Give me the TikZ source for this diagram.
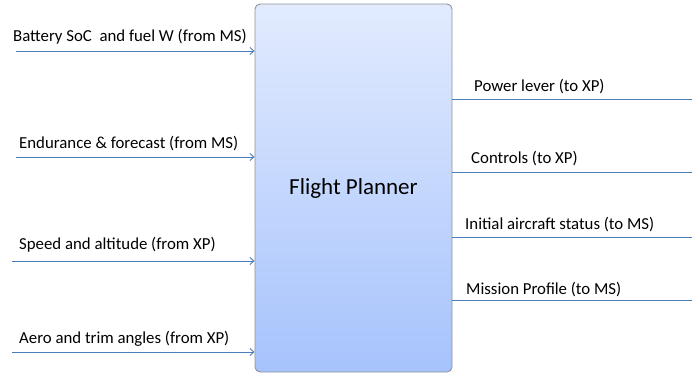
\documentclass[tikz,border=0pt]{standalone}
\usepackage{fontspec}
\setmainfont{Carlito}
\usetikzlibrary{arrows.meta,calc}
\definecolor{linkblue}{HTML}{4A7EBB}
\definecolor{boxtop}{HTML}{E2EBFE}
\definecolor{boxbot}{HTML}{A6C3FC}
\definecolor{boxedge}{HTML}{8E939A}
\begin{document}
\begin{tikzpicture}[x=1pt,y=-1pt,
  planner/.style={draw=boxedge,line width=0.9pt,rounded corners=5pt,
    top color=boxtop,bottom color=boxbot,minimum width=197pt,minimum height=368pt,
    inner sep=0pt,font=\fontsize{23}{27}\selectfont},
  inlink/.style={draw=linkblue,line width=1pt,-{Straight Barb[length=4pt,width=7pt,line width=0.9pt]}},
  outlink/.style={draw=linkblue,line width=1pt},
  lbl/.style={anchor=base west,inner sep=0pt,font=\fontsize{16.8}{19}\selectfont}]
\useasboundingbox (0,0) rectangle (692,375);
% central block
\node[planner] (fp) at (353.5,188) {Flight Planner};
% incoming signals
\coordinate (i1) at (16,51);
\coordinate (i2) at (16,157);
\coordinate (i3) at (12,261);
\coordinate (i4) at (12,352);
\draw[inlink] (i1) -- (i1 -| fp.west);
\draw[inlink] (i2) -- (i2 -| fp.west);
\draw[inlink] (i3) -- (i3 -| fp.west);
\draw[inlink] (i4) -- (i4 -| fp.west);
\node[lbl] (l1) at (13,41) {Battery SoC\ \ and fuel W (from MS)};
\node[lbl] (l2) at (19,148) {Endurance \& forecast (from MS)};
\node[lbl] (l3) at (19,249) {Speed and altitude (from XP)};
\node[lbl] (l4) at (19,343) {Aero and trim angles (from XP)};
% outgoing signals
\coordinate (o1) at (692,99.5);
\coordinate (o2) at (692,172.5);
\coordinate (o3) at (692,237.5);
\coordinate (o4) at (692,300.5);
\draw[outlink] (o1 -| fp.east) -- (o1);
\draw[outlink] (o2 -| fp.east) -- (o2);
\draw[outlink] (o3 -| fp.east) -- (o3);
\draw[outlink] (o4 -| fp.east) -- (o4);
\node[lbl] (r1) at (474,91) {Power lever (to XP)};
\node[lbl] (r2) at (471,163) {Controls (to XP)};
\node[lbl] (r3) at (465,229) {Initial aircraft status (to MS)};
\node[lbl] (r4) at (466,294) {Mission Profile (to MS)};
\end{tikzpicture}
\end{document}
